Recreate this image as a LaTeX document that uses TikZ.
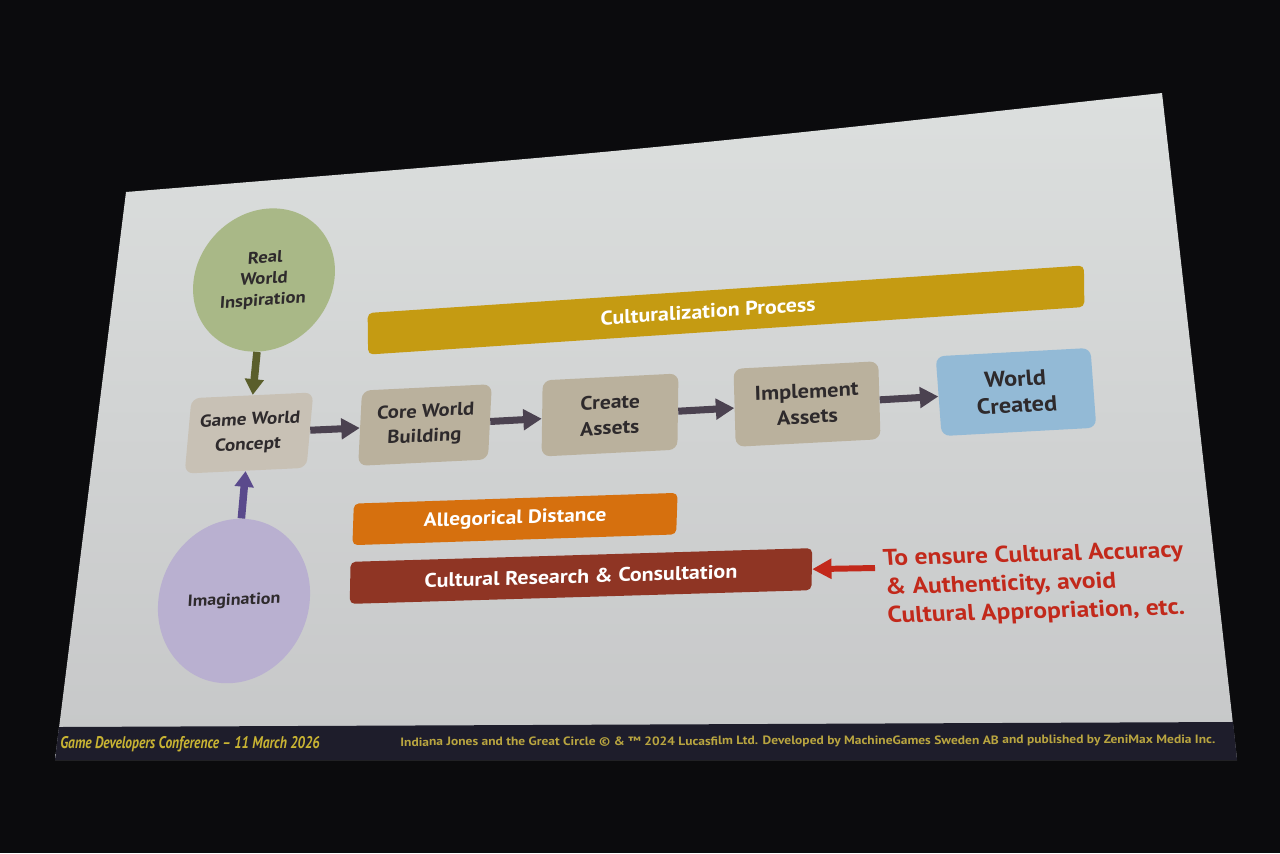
\documentclass[tikz,border=0pt]{standalone}
\usepackage{fontspec}
\setmainfont[FakeStretch=1.12]{PT Sans}
\newfontfamily\condfont[FakeStretch=0.8,Ligatures=TeX]{PT Sans}
\usetikzlibrary{arrows.meta,shapes.geometric}
\definecolor{bgc}{HTML}{0B0B0D}
\definecolor{scrtop}{HTML}{DCDFDE}
\definecolor{scrbot}{HTML}{C6C7C8}
\definecolor{footbg}{HTML}{1E1D2B}
\definecolor{footyel}{HTML}{C9B433}
\definecolor{footyel2}{HTML}{B9A540}
\definecolor{greenc}{HTML}{A9B887}
\definecolor{olivear}{HTML}{5A5E2B}
\definecolor{lavc}{HTML}{B9B0D0}
\definecolor{purpar}{HTML}{5A4A8C}
\definecolor{gwcfill}{HTML}{C8C1B5}
\definecolor{taupe}{HTML}{BAB19D}
\definecolor{bluec}{HTML}{93BAD6}
\definecolor{darkar}{HTML}{4B4250}
\definecolor{mustard}{HTML}{C59B12}
\definecolor{orangec}{HTML}{D6700E}
\definecolor{brownc}{HTML}{8F3524}
\definecolor{redtxt}{HTML}{C2291B}
\definecolor{txtdark}{HTML}{2E2A2C}
\begin{document}
\begin{tikzpicture}[x=0.02cm,y=-0.02cm,
  box/.style={rectangle, rounded corners=0.17cm, align=center, text=txtdark, inner sep=0pt},
  band/.style={rectangle, rounded corners=0.1cm, text=white, inner sep=0pt, minimum height=0.83cm},
  dkar/.style={-{Triangle[length=10.5pt,width=11.5pt]}, line width=4pt, draw=darkar},
  vrar/.style={-{Triangle[length=9pt,width=10.5pt]}, line width=4.3pt},
  redar/.style={-{Triangle[length=11pt,width=11pt]}, line width=3.4pt, draw=redtxt}]
\fill[bgc] (0,0) rectangle (1280,853);
\useasboundingbox (0,0) rectangle (1280,853);
% screen
\shade[top color=scrtop, bottom color=scrbot] (126,192) .. controls (644,150) .. (1162,93) -- (1237,760) -- (55,760) -- cycle;
\fill[footbg] (59,727) -- (1233,722) -- (1237,760) -- (55,760) -- cycle;
% circles
\node[circle, fill=greenc, minimum size=2.84cm, inner sep=0pt, align=center, text=txtdark,
  font=\bfseries\fontsize{9.5}{12}\selectfont, rotate=4, xslant=0.13] (rwi) at (264,280) {Real\\World\\Inspiration};
\node[ellipse, fill=lavc, minimum width=3.04cm, minimum height=3.28cm, inner sep=0pt, text=txtdark,
  font=\bfseries\fontsize{9.2}{12}\selectfont, rotate=2, xslant=0.09] (imag) at (234,601) {Imagination};
% process boxes
\node[box, fill=gwcfill, minimum width=2.44cm, minimum height=1.5cm, font=\bfseries\fontsize{9.8}{14.2}\selectfont,
  rotate=2.7, xslant=0.138] (gwc) at (249,433) {Game World\\Concept};
\node[box, fill=taupe, minimum width=2.6cm, minimum height=1.5cm, font=\bfseries\fontsize{10.5}{14.2}\selectfont,
  rotate=2.8, xslant=0.10] (core) at (425,425) {Core World\\Building};
\node[box, fill=taupe, minimum width=2.72cm, minimum height=1.52cm, font=\bfseries\fontsize{11}{14.5}\selectfont,
  rotate=2.9, xslant=0.065] (create) at (610,415) {Create\\Assets};
\node[box, fill=taupe, minimum width=2.9cm, minimum height=1.56cm, font=\bfseries\fontsize{11.4}{14.5}\selectfont,
  rotate=3.0, xslant=0.024] (impl) at (807,404) {Implement\\Assets};
\node[box, fill=bluec, minimum width=3.1cm, minimum height=1.6cm, font=\bfseries\fontsize{12.4}{15}\selectfont,
  rotate=3.1, xslant=-0.02] (world) at (1016,392) {World\\Created};
% bands
\node[band, fill=mustard, minimum width=14.36cm, font=\bfseries\fontsize{11.2}{12}\selectfont,
  rotate=3.8, xslant=0.055] (cult) at (726,310) {Culturalization Process\hspace*{0.72cm}};
\node[band, fill=orangec, minimum width=6.48cm, font=\bfseries\fontsize{10.9}{12}\selectfont,
  rotate=1.9, xslant=0.067] (alleg) at (515,519) {Allegorical Distance};
\node[band, fill=brownc, minimum width=9.24cm, minimum height=0.84cm, font=\bfseries\fontsize{11.2}{12}\selectfont,
  rotate=1.7, xslant=0.05] (crc) at (581,576) {Cultural Research \& Consultation};
% note
\node[anchor=north west, align=left, text=redtxt, inner sep=0pt, font=\bfseries\fontsize{13}{16.3}\selectfont,
  rotate=1.6, xslant=-0.05] (note) at (882,549) {To ensure Cultural Accuracy\\\& Authenticity, avoid\\Cultural Appropriation, etc.};
\coordinate (ra) at (875,568);
% connectors
\draw[vrar, draw=olivear] (rwi) -- (gwc);
\draw[vrar, draw=purpar] (imag) -- (gwc);
\draw[dkar] (gwc) -- (core);
\draw[dkar] (core) -- (create);
\draw[dkar] (create) -- (impl);
\draw[dkar] (impl) -- (world);
\draw[redar] (ra) -- (crc.east);
% footer
\node[anchor=west, inner sep=0pt, text=footyel, font=\condfont\bfseries\itshape\fontsize{9.6}{10}\selectfont] (gdc) at (60,744) {Game Developers Conference – 11 March 2026};
\node[anchor=west, inner sep=0pt, text=footyel2, font=\bfseries\fontsize{6.85}{7}\selectfont, rotate=0.2] (copy) at (400,743) {Indiana Jones and the Great Circle © \& ™ 2024 Lucasfilm Ltd. Developed by MachineGames Sweden AB and published by ZeniMax Media Inc.};
\end{tikzpicture}
\end{document}
